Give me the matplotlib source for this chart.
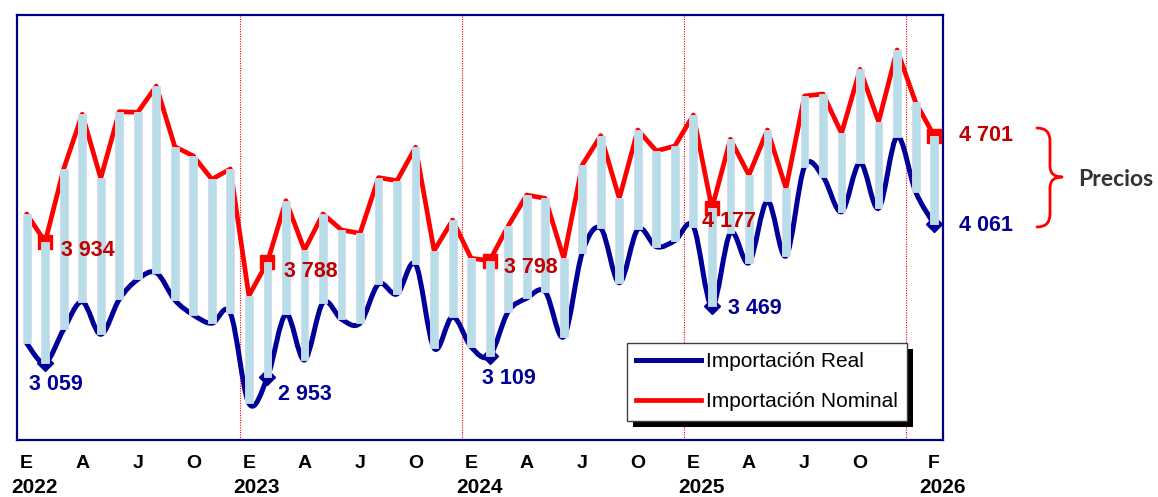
import numpy as np
import matplotlib
matplotlib.use('Agg')
import matplotlib.pyplot as plt
from matplotlib.path import Path
from matplotlib.patches import PathPatch, Rectangle
from matplotlib.lines import Line2D
from matplotlib.transforms import blended_transform_factory

plt.rcParams['font.family'] = ['Liberation Sans', 'DejaVu Sans']

# ---------------- data (monthly, Jan 2022 .. Feb 2026) ----------------
nominal = [4136, 3934, 4462, 4858, 4394, 4876, 4872, 5062, 4623, 4556, 4387, 4462,
           3544, 3788, 4232, 3875, 4136, 4020, 3996, 4399, 4377, 4619, 3870, 4092,
           3815, 3798, 4049, 4273, 4249, 3815, 4491, 4703, 4249, 4744, 4592, 4628,
           4852, 4177, 4677, 4418, 4744, 4322, 4990, 5004, 4720, 5183, 4804, 5323,
           4944, 4701]
real = [3200, 3059, 3301, 3501, 3265, 3518, 3663, 3711, 3513, 3405, 3345, 3417,
        2765, 2953, 3410, 3079, 3494, 3374, 3345, 3629, 3557, 3772, 3164, 3392,
        3173, 3109, 3429, 3526, 3573, 3248, 3856, 4032, 3638, 4025, 3899, 3943,
        4045, 3469, 4000, 3783, 4230, 3832, 4478, 4406, 4152, 4507, 4177, 4695,
        4297, 4061]

tick_idx = [0, 3, 6, 9, 12, 15, 18, 21, 24, 27, 30, 33, 36, 39, 42, 45, 49]
tick_labels = ['E', 'A', 'J', 'O', 'E', 'A', 'J', 'O', 'E', 'A', 'J', 'O',
               'E', 'A', 'J', 'O', 'F']
year_idx = [0, 12, 24, 36, 49]
year_labels = ['2022', '2023', '2024', '2025', '2026']
callout_idx = [1, 13, 25, 37, 49]
separators = [11.5, 23.5, 35.5, 47.5]
legend_labels = ['Importación Real', 'Importación Nominal']

RED = '#FF0000'
BLUE = '#000099'
RED_TXT = '#C00000'
BAR = '#B7DDE8'

W, H = 1158, 497
fig = plt.figure(figsize=(W / 100, H / 100), dpi=100)
fig.patch.set_facecolor('white')
ax = fig.add_axes([17.4 / W, 57 / H, (943.4 - 17.4) / W, 425 / H])

x = np.arange(len(nominal))
nom = np.array(nominal, dtype=float)
rea = np.array(real, dtype=float)

ax.set_xlim(-0.5, 49.5)
ax.set_ylim(2500, 5576)
ax.set_xticks([])
ax.set_yticks([])
for s in ax.spines.values():
    s.set_color('#000080')
    s.set_linewidth(1.6)

for sx in separators:
    ax.axvline(sx, color=RED, lw=0.8, ls=(0, (1, 1.2)), zorder=1)

# nominal line (straight)
ax.plot(x, nom, color=RED, lw=3.4, zorder=2, solid_joinstyle='round',
        solid_capstyle='round')


# real line (smoothed Bezier through the data points)
def smooth_path(xs, ys):
    P = np.column_stack([xs, ys]).astype(float)
    n = len(P)
    verts = [P[0]]
    codes = [Path.MOVETO]
    for i in range(n - 1):
        p0 = P[i - 1] if i > 0 else P[i]
        p1 = P[i]
        p2 = P[i + 1]
        p3 = P[i + 2] if i + 2 < n else P[i + 1]
        c1 = p1 + (p2 - p0) / 6.0
        c2 = p2 - (p3 - p1) / 6.0
        verts += [c1, c2, p2]
        codes += [Path.CURVE4] * 3
    return Path(verts, codes)


ax.add_patch(PathPatch(smooth_path(x, rea), fill=False, edgecolor=BLUE, lw=3.6,
                       zorder=3, joinstyle='round', capstyle='round'))

# markers on the highlighted months
ci = np.array(callout_idx)
ax.plot(x[ci], nom[ci], 's', ms=10.5, color=RED, zorder=3.5)
ax.plot(x[ci], rea[ci], 'D', ms=8.5, color=BLUE, zorder=3.5)

# up/down bars
ax.bar(x, nom - rea, bottom=rea, width=0.42, color=BAR, edgecolor='#D8D8EE',
       linewidth=0.6, zorder=4)

# callout labels
def fmt(v):
    return f"{int(round(v)):,}".replace(',', ' ')

lab_kw = dict(textcoords='offset points', fontsize=15.5, fontweight='bold',
              va='center', zorder=6, annotation_clip=False)
nom_offsets = [(11.5, -6.5, 'left'), (12.2, -6.5, 'left'), (10, -5, 'left'),
               (-7.2, -9.4, 'left'), (17.8, 0, 'left')]
real_offsets = [(8, -15.6, 'center'), (7.9, -12.5, 'left'), (13.7, -16.6, 'center'),
                (11.5, -1.4, 'left'), (17.8, -1.2, 'left')]
for k, i in enumerate(callout_idx):
    dx, dy, ha = nom_offsets[k]
    ax.annotate(fmt(nom[i]), (x[i], nom[i]), xytext=(dx, dy), ha=ha, color=RED_TXT, **lab_kw)
    dx, dy, ha = real_offsets[k]
    ax.annotate(fmt(rea[i]), (x[i], rea[i]), xytext=(dx, dy), ha=ha, color=BLUE, **lab_kw)

# x labels
tb = blended_transform_factory(ax.transData, ax.transAxes)
for i, t in zip(tick_idx, tick_labels):
    ax.text(i, -0.0555, t, transform=tb, ha='center', va='center', fontsize=14,
            fontweight='bold', color='black', clip_on=False)
for i, t in zip(year_idx, year_labels):
    ax.text(i + 0.43, -0.1118, t, transform=tb, ha='center', va='center', fontsize=15,
            fontweight='bold', color='black', clip_on=False)

# legend
handles = [Line2D([], [], color=BLUE, lw=3.6), Line2D([], [], color=RED, lw=3.4)]
leg = ax.legend(handles, legend_labels, loc='upper left',
                bbox_to_anchor=(627 / W, (H - 343) / H), bbox_transform=fig.transFigure,
                frameon=True, fancybox=False, edgecolor='#404040', framealpha=1,
                borderaxespad=0, borderpad=0.45, labelspacing=1.0, handlelength=3.1,
                handletextpad=0.25, prop={'family': 'Liberation Sans', 'size': 15})
leg.get_frame().set_linewidth(1.0)
leg.set_zorder(10)

fig.canvas.draw()
bb = leg.get_window_extent().transformed(fig.transFigure.inverted())
shadow = Rectangle((bb.x0 + 6 / W, bb.y0 - 6 / H), bb.width, bb.height,
                   transform=fig.transFigure, facecolor='black', edgecolor='none',
                   zorder=9, clip_on=False)
ax.add_patch(shadow)

# brace + "Precios"
def fp(px, py):
    return (px / W, (H - py) / H)

bx0, bxm, btip = 1037, 1050, 1062
ytop, ymid, ybot = 128, 177, 227
verts = [fp(bx0, ytop), fp(bxm, ytop), fp(bxm, ytop + 13),
         fp(bxm, ymid - 11),
         fp(bxm, ymid), fp(btip, ymid),
         fp(bxm, ymid), fp(bxm, ymid + 11),
         fp(bxm, ybot - 13),
         fp(bxm, ybot), fp(bx0, ybot)]
codes = [Path.MOVETO, Path.CURVE3, Path.CURVE3,
         Path.LINETO,
         Path.CURVE3, Path.CURVE3,
         Path.CURVE3, Path.CURVE3,
         Path.LINETO,
         Path.CURVE3, Path.CURVE3]
fig.add_artist(PathPatch(Path(verts, codes), transform=fig.transFigure, fill=False,
                         edgecolor=RED, lw=2.0, capstyle='round', joinstyle='round'))
fig.text(1078 / W, (H - 179) / H, 'Precios', ha='left', va='center', fontsize=16.5,
         fontweight='bold', family=['Lato', 'DejaVu Sans'], color='#333333')

fig.savefig('out.png', dpi=100, facecolor='white')
